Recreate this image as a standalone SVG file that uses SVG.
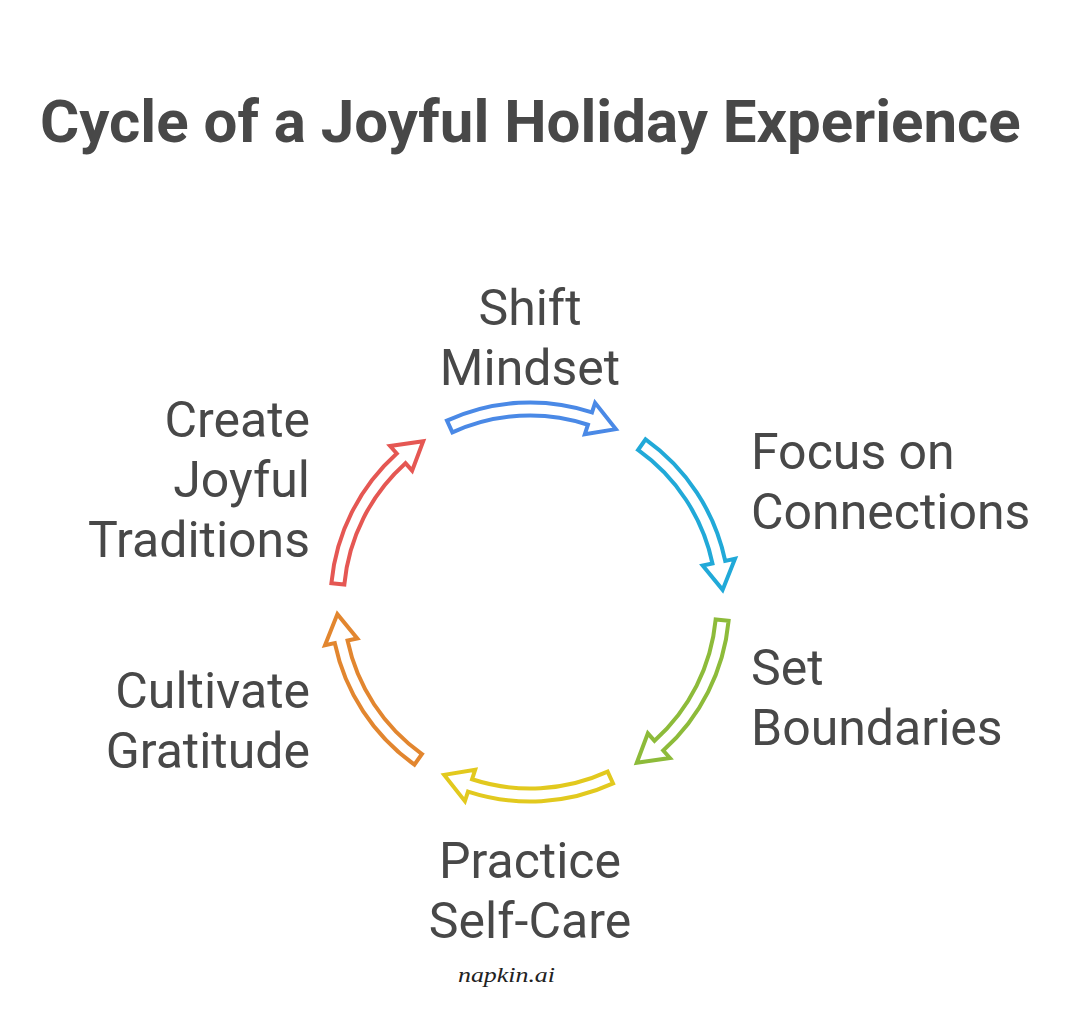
<svg xmlns="http://www.w3.org/2000/svg" width="1084" height="1036" viewBox="0 0 1084 1036">
<style>
.title{font-family:Roboto,"Liberation Sans",sans-serif;font-weight:700;font-size:60px;fill:#484848}
.lbl{font-family:Roboto,"Liberation Sans",sans-serif;font-size:50px;fill:#484848}
.arrow{fill:#ffffff;stroke-width:4;stroke-linejoin:miter}
.brand{font-family:"Liberation Serif",serif;font-style:italic;font-size:22px;fill:#222222}
</style>
<defs>
<path id="arc" d="M446.95,420.61 A199.5,199.5 0 0 1 591.99,412.38 L595.09,402.87 L615.81,429.13 L584.84,434.24 L587.95,424.73 A186.5,186.5 0 0 0 452.36,432.43 Z"/>
</defs>
<rect width="1084" height="1036" fill="#ffffff"/>
<text class="title" x="40" y="142">Cycle of a Joyful Holiday Experience</text>
<g id="connectors">
<use href="#arc" class="arrow" stroke="#4a89e6"/>
<use href="#arc" class="arrow" stroke="#21a9d8" transform="rotate(60 530 602)"/>
<use href="#arc" class="arrow" stroke="#8dbb3a" transform="rotate(120 530 602)"/>
<use href="#arc" class="arrow" stroke="#e2c91e" transform="rotate(180 530 602)"/>
<use href="#arc" class="arrow" stroke="#e2862f" transform="rotate(240 530 602)"/>
<use href="#arc" class="arrow" stroke="#e55753" transform="rotate(300 530 602)"/>
</g>
<g id="shift-mindset">
<text class="lbl" x="530" y="325" text-anchor="middle">Shift</text>
<text class="lbl" x="530" y="385" text-anchor="middle">Mindset</text>
</g>
<g id="focus-connections">
<text class="lbl" x="751" y="469">Focus on</text>
<text class="lbl" x="751" y="529">Connections</text>
</g>
<g id="set-boundaries">
<text class="lbl" x="751" y="685">Set</text>
<text class="lbl" x="751" y="745">Boundaries</text>
</g>
<g id="practice-self-care">
<text class="lbl" x="530" y="878" text-anchor="middle">Practice</text>
<text class="lbl" x="530" y="938" text-anchor="middle">Self-Care</text>
</g>
<g id="cultivate-gratitude">
<text class="lbl" x="310" y="708" text-anchor="end">Cultivate</text>
<text class="lbl" x="310" y="768" text-anchor="end">Gratitude</text>
</g>
<g id="create-joyful-traditions">
<text class="lbl" x="310" y="437" text-anchor="end">Create</text>
<text class="lbl" x="310" y="497" text-anchor="end">Joyful</text>
<text class="lbl" x="310" y="557" text-anchor="end">Traditions</text>
</g>
<text class="brand" x="458" y="982" textLength="97" lengthAdjust="spacingAndGlyphs">napkin.ai</text>
</svg>
